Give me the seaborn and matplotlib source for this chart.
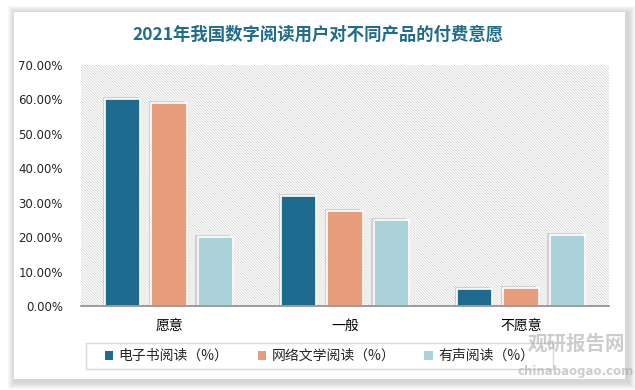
import matplotlib
matplotlib.use("Agg")
import matplotlib.pyplot as plt
import matplotlib.patheffects as pe
from matplotlib.patches import Rectangle
import seaborn as sns
import pandas as pd

# ---- data ----
categories = ["愿意", "一般", "不愿意"]
series = ["电子书阅读（%）", "网络文学阅读（%）", "有声阅读（%）"]
ebook = [60.2, 32.0, 5.0]
webnovel = [59.1, 27.7, 5.3]
audio = [20.1, 25.1, 20.7]
yticks = [0, 10, 20, 30, 40, 50, 60, 70]
title = "2021年我国数字阅读用户对不同产品的付费意愿"
colors = ["#1C6B8E", "#E79C7B", "#AAD2D8"]

df = pd.DataFrame({
    "cat": categories * 3,
    "series": [series[0]] * 3 + [series[1]] * 3 + [series[2]] * 3,
    "value": ebook + webnovel + audio,
})

sns.set_theme(style="white")
plt.rcParams["font.family"] = ["Noto Sans CJK SC", "DejaVu Sans"]
plt.rcParams["hatch.linewidth"] = 0.6

W, H = 635, 390
fig = plt.figure(figsize=(W / 100, H / 100), dpi=100)
fig.patch.set_facecolor("white")

def fx(px):
    return px / W

def fy(py):
    return 1 - py / H

# card shadow + card
cx0, cy0, cx1, cy1 = 14, 12, 625, 379
for i, a in enumerate([0.05, 0.05, 0.05, 0.05, 0.05, 0.04, 0.03, 0.02]):
    d = 8 - i
    fig.patches.append(Rectangle((fx(cx0 - d + 2), fy(cy1 + d + 2)),
                                 fx(cx1 - cx0 + 2 * d), (cy1 - cy0 + 2 * d) / H,
                                 transform=fig.transFigure, facecolor="#808080",
                                 edgecolor="none", alpha=a, zorder=-5))
fig.patches.append(Rectangle((fx(cx0), fy(cy1)), fx(cx1 - cx0), (cy1 - cy0) / H,
                             transform=fig.transFigure, facecolor="white",
                             edgecolor="none", zorder=-4))
# legend frame
fig.patches.append(Rectangle((fx(86), fy(369)), fx(553 - 86), (369 - 343) / H,
                             transform=fig.transFigure, facecolor="none",
                             edgecolor="#d9d9d9", lw=1.0, zorder=-3))

ax = fig.add_axes([fx(81), fy(306), fx(609 - 81), (306 - 65) / H])
ax.set_facecolor("none")
ax.patch.set_alpha(0)

hatch_bg = Rectangle((0, 0), 1, 1, transform=ax.transAxes, facecolor="white",
                     edgecolor="#d8d8d8", hatch="\\" * 12, lw=0, zorder=0)
ax.add_patch(hatch_bg)

sns.barplot(data=df, x="cat", y="value", hue="series", order=categories,
            hue_order=series, palette=colors, saturation=1, width=0.785, gap=0.24,
            edgecolor="white", linewidth=1.2, ax=ax, legend=True, zorder=3)

for p in ax.patches:
    if p is hatch_bg:
        continue
    p.set_path_effects([pe.SimplePatchShadow(offset=(-1.5, 1.0), shadow_rgbFace="#9a9a9a", alpha=0.35),
                        pe.Normal()])

ax.set_ylim(0, 70)
ax.set_xlim(-0.5, 2.5)
ax.set_yticks(yticks)
ax.set_yticklabels([f"{v:.2f}%" for v in yticks], fontsize=8.5, family="DejaVu Sans", color="#262626")
ax.tick_params(axis="y", length=0, pad=13)
ax.tick_params(axis="x", length=0, pad=9, labelsize=10, labelcolor="#000000")
ax.set_xlabel("")
ax.set_ylabel("")
for s in ["top", "right", "left"]:
    ax.spines[s].set_visible(False)
ax.spines["bottom"].set_color("#8c8c8c")
ax.spines["bottom"].set_linewidth(1.2)
ax.spines["bottom"].set_zorder(5)

handles, labels = ax.get_legend_handles_labels()
ax.get_legend().remove()
leg = fig.legend(handles, labels, loc="center", bbox_to_anchor=(fx(319.5), fy(356)),
                 ncol=3, frameon=False,
                 fontsize=10, handlelength=0.6, handleheight=0.6, handletextpad=0.4,
                 columnspacing=2.1, borderpad=0.4, borderaxespad=0)
for h in leg.legend_handles:
    h.set_path_effects([])
    h.set_edgecolor("none")

fig.text(0.5, fy(35), title, ha="center", va="center", fontsize=12.5,
         fontweight="bold", color="#1F6C8C")

# watermark
fig.text(fx(576), fy(344), "观研报告网", ha="center", va="center", fontsize=14,
         fontweight="bold", color="#9a9a9a", alpha=0.5)
fig.text(fx(576), fy(371), "chinabaogao.com", ha="center", va="center", fontsize=8.5,
         fontweight="bold", color="#9a9a9a", alpha=0.5, family="DejaVu Sans")

fig.savefig("out.png", dpi=100, facecolor=fig.get_facecolor())
